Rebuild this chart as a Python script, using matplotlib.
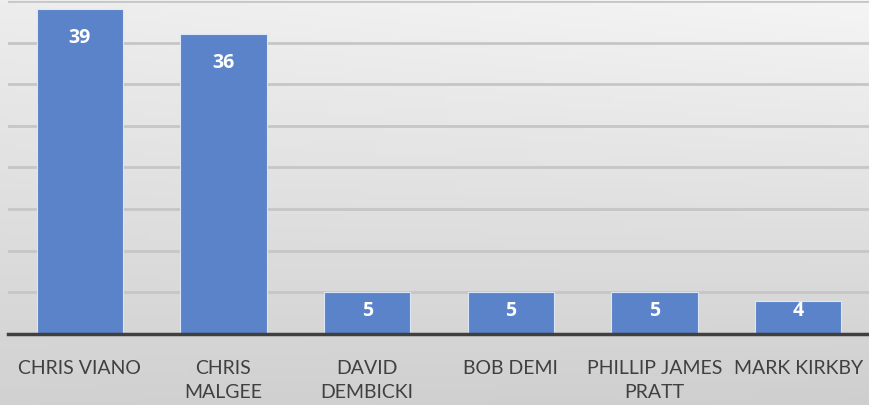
import numpy as np
import matplotlib
matplotlib.use("Agg")
from matplotlib import pyplot as plt

# data
names = ["CHRIS VIANO", "CHRIS\nMALGEE", "DAVID\nDEMBICKI", "BOB DEMI",
         "PHILLIP JAMES\nPRATT", "MARK KIRKBY"]
counts = [39, 36, 5, 5, 5, 4]

plt.rcParams['font.family'] = ['Lato', 'DejaVu Sans']

fig = plt.figure(figsize=(8.7, 4.06), dpi=100)

# soft gray gradient background, lighter at the top right
bg = fig.add_axes([0, 0, 1, 1], zorder=-10)
xx, yy = np.meshgrid(np.linspace(0, 1, 200), np.linspace(0, 1, 100))
g = 0.82 + 0.11 * yy + 0.03 * xx * yy - 0.01 * xx * (1 - yy)
bg.imshow(np.dstack([g, g, g]), origin='lower',
          extent=[0, 1, 0, 1], aspect='auto')
bg.axis('off')

ax = fig.add_axes([8 / 870, 71 / 406, 862 / 870, 333 / 406])
ax.patch.set_alpha(0)

x = np.arange(len(names))
bars = ax.bar(x, counts, width=0.6, color='#5a83c9', edgecolor='#dce6f5',
              linewidth=0.8, zorder=3)

# labels inside top of bar, pushed up for short bars
for xi, v in zip(x, counts):
    ly = max(v - 3.36, 2.88)
    ax.text(xi, ly, str(v), ha='center', va='center', color='white',
            fontsize=14, fontweight='bold', family=['Open Sans', 'DejaVu Sans'],
            zorder=4)

ax.set_ylim(0, 40)
ax.set_xlim(-0.5, len(names) - 0.5)
ax.set_yticks(np.arange(5, 41, 5))
ax.yaxis.grid(True, color='#c6c6c6', linewidth=2, zorder=0)
ax.tick_params(axis='y', left=False, labelleft=False)
ax.set_xticks(x)
ax.set_xticklabels(names, fontsize=14, color='#404040', linespacing=1.5)
ax.tick_params(axis='x', length=0, pad=18)
for s in ['top', 'right', 'left']:
    ax.spines[s].set_visible(False)
ax.spines['bottom'].set_color('#404040')
ax.spines['bottom'].set_linewidth(2.5)
ax.spines['bottom'].set_zorder(5)

fig.savefig('out.png', dpi=100)
